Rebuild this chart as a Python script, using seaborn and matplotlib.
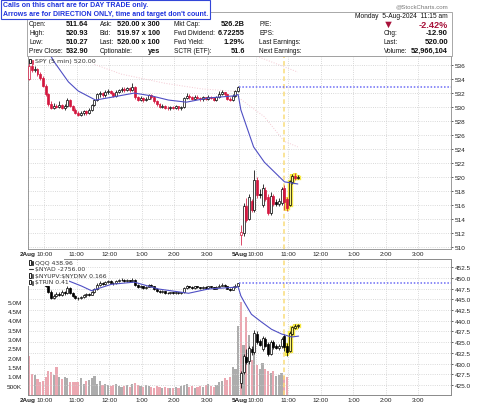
import matplotlib
matplotlib.use("Agg")
import matplotlib.pyplot as plt
from matplotlib.patches import Rectangle
import seaborn as sns
import numpy as np
import pandas as pd

sns.set_style("white")
plt.rcParams['font.family'] = ['Liberation Sans', 'DejaVu Sans']

# ---------------- data ----------------
spy_o = [534.0,535.8,535.3,535.5,534.7,534.2,533.0,531.8,530.5,529.9,
         530.2,530.0,530.3,529.9,530.1,531.0,530.2,529.6,529.2,528.9,
         529.1,529.4,529.2,529.6,530.3,531.0,531.8,532.0,531.7,532.1,
         532.3,532.0,531.6,532.2,532.4,532.6,532.5,532.7,532.4,532.9,
         531.4,531.0,531.3,531.0,531.2,531.7,531.5,530.8,530.4,530.0,
         530.2,529.9,529.8,530.0,529.9,530.1,529.8,530.0,531.3,531.6,
         531.4,531.2,531.5,531.3,531.1,531.4,531.2,531.5,531.3,531.0,
         531.4,531.8,532.1,531.8,531.2,531.0,531.6,532.3,
         511.64,512.0,515.8,514.0,516.5,515.3,519.5,517.6,516.0,518.2,
         517.2,514.8,517.3,516.4,516.2,516.3,518.4,516.8,516.0,519.3,
         520.1,519.9]
spy_c = [535.8,535.3,535.5,534.7,534.2,533.0,531.8,530.5,529.9,530.2,
         530.0,530.3,529.9,530.1,531.0,530.2,529.6,529.2,528.9,529.1,
         529.4,529.2,529.6,530.3,531.0,531.8,532.0,531.7,532.1,532.3,
         532.0,531.6,532.2,532.4,532.6,532.5,532.7,532.4,532.9,531.4,
         531.0,531.3,531.0,531.2,531.7,531.5,530.8,530.4,530.0,530.2,
         529.9,529.8,530.0,529.9,530.1,529.8,530.0,531.3,531.6,531.4,
         531.2,531.5,531.3,531.1,531.4,531.2,531.5,531.3,531.0,531.4,
         531.8,532.1,531.8,531.2,531.0,531.6,532.3,532.9,
         512.2,515.9,513.9,517.2,515.3,519.5,517.4,517.4,518.4,516.8,
         514.8,517.3,516.1,516.2,516.5,518.3,516.4,515.6,519.4,520.2,
         519.8,520.0]
spy_h = [536.3,536.1,535.9,535.6,535.0,534.4,533.3,532.0,530.8,530.6,
         530.5,530.8,530.4,530.4,531.3,531.2,530.3,529.8,529.4,529.4,
         529.6,529.6,529.9,530.5,531.2,532.0,532.3,532.2,532.4,532.6,
         532.5,532.1,532.4,532.6,532.9,532.8,532.9,532.8,533.4,533.0,
         531.6,531.6,531.4,531.5,531.9,531.8,531.6,531.0,530.6,530.5,
         530.3,530.1,530.2,530.2,530.3,530.2,530.2,531.5,532.0,531.8,
         531.6,531.7,531.7,531.5,531.6,531.5,531.7,531.6,531.4,531.6,
         532.3,532.4,532.2,531.9,531.4,531.8,532.5,533.0,
         513.2,516.3,517.0,517.5,516.8,520.93,520.0,518.3,519.0,518.6,
         517.6,517.8,517.6,516.8,517.0,518.5,518.9,517.2,519.6,520.4,
         520.5,520.3]
spy_l = [533.8,535.0,535.0,534.5,533.9,532.8,531.6,530.2,529.7,529.7,
         529.8,529.8,529.7,529.6,530.0,530.0,529.4,529.0,528.7,528.7,
         528.9,528.8,529.0,529.4,530.1,530.8,531.5,531.5,531.5,531.9,
         531.8,531.4,531.5,532.0,532.2,532.2,532.3,532.2,532.3,531.2,
         530.8,530.8,530.7,530.8,531.1,531.2,530.6,530.2,529.8,529.8,
         529.7,529.6,529.6,529.7,529.7,529.6,529.6,529.9,531.1,531.2,
         531.0,531.0,531.1,530.9,530.9,531.0,531.0,531.1,530.8,530.9,
         531.3,531.7,531.6,531.0,530.8,530.9,531.4,532.1,
         510.27,511.5,513.6,513.8,515.0,515.0,517.0,517.0,515.7,516.5,
         514.6,514.6,515.9,515.9,515.8,516.0,515.3,515.2,515.8,519.0,
         519.6,519.7]
spy_prev_close = 543.0          # close before the first bar (colouring only)
spy_last_close = 532.90

qqq_o = [451.0,452.0,451.5,451.6,450.8,450.2,449.3,448.2,446.8,445.3,
         445.8,446.3,446.0,446.8,446.4,447.6,446.5,445.8,445.4,445.2,
         445.5,445.9,446.2,446.1,446.6,447.3,448.4,448.9,448.6,449.0,
         449.3,448.9,448.7,449.2,449.4,449.6,449.3,449.5,449.2,449.6,
         448.3,447.8,448.0,447.7,447.9,448.4,448.1,447.4,447.0,446.7,
         446.9,446.5,446.4,446.6,446.5,446.7,446.4,446.6,447.7,448.1,
         447.9,447.7,448.0,447.8,447.6,447.9,447.7,448.0,447.8,447.5,
         447.9,448.2,448.4,448.1,447.5,447.2,447.8,448.2,
         425.5,428.0,431.5,430.5,433.4,432.6,437.0,435.2,433.5,435.8,
         434.5,432.2,435.0,434.0,433.7,434.0,436.5,434.2,433.0,437.0,
         438.4,438.7]
qqq_c = [452.0,451.5,451.6,450.8,450.2,449.3,448.2,446.8,445.3,445.8,
         446.3,446.0,446.8,446.4,447.6,446.5,445.8,445.4,445.2,445.5,
         445.9,446.2,446.1,446.6,447.3,448.4,448.9,448.6,449.0,449.3,
         448.9,448.7,449.2,449.4,449.6,449.3,449.5,449.2,449.6,448.3,
         447.8,448.0,447.7,447.9,448.4,448.1,447.4,447.0,446.7,446.9,
         446.5,446.4,446.6,446.5,446.7,446.4,446.6,447.7,448.1,447.9,
         447.7,448.0,447.8,447.6,447.9,447.7,448.0,447.8,447.5,447.9,
         448.2,448.4,448.1,447.5,447.2,447.8,448.2,448.75,
         427.8,431.8,430.3,433.6,432.6,437.2,435.0,434.4,435.9,434.2,
         432.2,435.0,433.9,433.7,434.2,435.8,433.8,432.6,437.2,438.5,
         438.7,438.96]
qqq_h = [452.6,452.3,452.0,451.8,451.1,450.4,449.6,448.5,447.1,446.2,
         446.7,446.6,447.2,447.0,448.0,447.8,446.7,446.0,445.6,445.8,
         446.2,446.4,446.5,446.9,447.6,448.7,449.2,449.1,449.3,449.6,
         449.5,449.0,449.4,449.7,449.9,449.8,449.8,449.6,450.0,449.7,
         448.5,448.3,448.1,448.2,448.6,448.5,448.2,447.6,447.2,447.1,
         447.0,446.7,446.8,446.8,446.9,446.8,446.8,447.9,448.4,448.2,
         448.0,448.2,448.1,447.9,448.1,448.0,448.2,448.1,447.9,448.1,
         448.6,448.7,448.5,448.2,447.7,448.0,448.5,448.9,
         428.2,432.3,433.5,434.0,434.0,437.8,437.5,435.8,436.5,436.2,
         435.0,435.5,435.6,434.5,434.6,436.2,436.8,434.8,437.5,438.8,
         439.2,439.2]
qqq_l = [450.8,451.2,451.2,450.5,449.9,449.0,447.9,446.5,445.0,445.0,
         445.5,445.7,445.8,446.1,446.2,446.2,445.5,445.1,444.9,445.0,
         445.3,445.6,445.8,445.9,446.4,447.1,448.2,448.3,448.4,448.8,
         448.7,448.4,448.5,449.0,449.2,449.1,449.1,449.0,449.1,448.1,
         447.6,447.6,447.4,447.5,447.8,447.9,447.2,446.8,446.5,446.5,
         446.3,446.2,446.2,446.3,446.3,446.2,446.2,446.5,447.5,447.6,
         447.4,447.5,447.6,447.4,447.4,447.5,447.5,447.6,447.3,447.4,
         447.8,448.0,447.9,447.3,447.0,447.1,447.6,448.0,
         424.3,427.5,429.8,430.0,432.0,432.3,434.5,434.0,433.0,433.8,
         431.8,432.0,433.5,433.3,433.2,433.6,433.0,431.8,432.6,436.6,
         438.0,438.4]
qqq_last_close = 448.75

# volume in millions (bars shown through 10:55 on 5-Aug)
volume = [2.1,1.15,1.1,0.85,0.7,0.75,0.95,1.3,1.25,1.1,
          1.5,0.95,0.85,0.95,0.9,0.7,0.7,0.7,0.7,0.9,
          0.6,0.75,0.8,0.9,1.0,0.6,0.75,0.55,0.6,0.55,
          0.5,0.55,0.6,0.5,0.45,0.5,0.55,0.45,0.6,0.65,
          0.55,0.5,0.45,0.55,0.5,0.45,0.4,0.5,0.45,0.4,
          0.45,0.4,0.35,0.4,0.45,0.4,0.5,0.55,0.6,0.45,
          0.5,0.4,0.45,0.5,0.45,0.55,0.6,0.5,0.45,0.55,
          0.7,0.75,0.9,0.8,0.98,1.5,1.42,3.7,
          5.0,2.7,4.2,3.2,1.9,2.6,1.6,1.4,1.7,1.4,
          1.3,1.2,1.3,1.0,1.1,1.2,1.0,0.95]

# moving averages (bar index, value)
spy_ma_x = [7.5, 8.9, 14.4, 18.0, 24.4, 30.3, 38.7, 45, 51.3, 57.9, 66, 75.6, 77, 78, 82.7, 86.7, 90.4, 94.1, 99]
spy_ma_y = [537.6, 536.6, 533.6, 532.3, 531.0, 531.4, 532.0, 531.6, 531.0, 530.7, 531.3, 531.6, 531.8, 529.6, 524.3, 522.1, 520.7, 519.3, 519.0]
qqq_ma_x = [14.4, 19.2, 22.9, 30.3, 38.7, 47.6, 58.7, 66, 75.6, 77, 78, 79.3, 81.9, 85.6, 89.3, 93, 96.7, 99.3]
qqq_ma_y = [449.3, 448.1, 447.0, 448.5, 449.0, 447.4, 446.4, 447.4, 447.8, 447.9, 445.8, 444.3, 441.5, 439.7, 438.0, 436.9, 436.2, 436.4]
pinkA_x = [83, 99];               pinkA_y = [537.4, 535.0]
pinkB_x = [24, 34, 50, 63.5, 77.5]; pinkB_y = [536.1, 534.7, 533.4, 532.6, 532.2]
pinkC_x = [78, 86.7, 94, 99];      pinkC_y = [531.1, 528.6, 525.1, 524.3]

tick_pos = [-0.5, 5.5, 17.5, 29.5, 41.5, 53.5, 65.5, 77.5, 83.5, 95.5, 107.5, 119.5, 131.5, 143.5]
tick_lab = ['2Aug', '10:00', '11:00', '12:00', '1:00', '2:00', '3:00',
            '5Aug', '10:00', '11:00', '12:00', '1:00', '2:00', '3:00']
marker_bar = 93.9      # yellow dashed marker
hl_start = 95          # highlighted last bars

# ---------------- styling ----------------
RED = '#d3173f'
PINK = '#eba7b1'
GRAYV = '#adadad'
YEL = '#f6e945'
BLUE_MA = '#4f4fc4'
GRID = '#cdcdcd'
SPINE = '#8a8a8a'

W, H = 480, 406
fig = plt.figure(figsize=(4.8, 4.06), dpi=100)
fig.patch.set_facecolor('white')

def fx(x): return x / W
def fy(y): return 1 - y / H

L, R = 28, 451
ax1 = fig.add_axes([fx(L), fy(250), (R - L) / W, (250 - 57) / H])
ax2 = fig.add_axes([fx(L), fy(396), (R - L) / W, (396 - 260) / H])
axq = ax2.twinx()


def candles(ax, o, h, l, c, prev, use_red, hl_from, minh):
    o, h, l, c = map(np.asarray, (o, h, l, c))
    x = np.arange(len(c))
    pc = np.r_[prev, c[:-1]]
    if use_red:
        edge = np.where(c < pc, RED, 'black')
    else:
        edge = np.array(['black'] * len(c))
    up = c >= o
    face = np.where(up, 'white', edge)
    hl = x >= hl_from
    face = np.where(hl & up, '#fbf38a', face)
    bot = np.minimum(o, c)
    bh = np.maximum(np.abs(c - o), minh)
    ax.vlines(x[hl], l[hl], h[hl], colors=YEL, lw=3.0, zorder=2)
    ax.bar(x[hl], bh[hl], bottom=bot[hl], width=0.72, color=YEL, edgecolor=YEL,
           linewidth=2.4, zorder=2)
    ax.vlines(x, l, h, colors=edge, lw=0.55, zorder=3)
    ax.bar(x, bh, bottom=bot, width=0.72, color=face, edgecolor=edge,
           linewidth=0.5, zorder=4)


# ---------- upper panel (SPY) ----------
candles(ax1, spy_o, spy_h, spy_l, spy_c, spy_prev_close, True, hl_start, 0.06)
sns.lineplot(x=spy_ma_x, y=spy_ma_y, ax=ax1, color=BLUE_MA, lw=0.8, zorder=5)
for xs, ys in ((pinkA_x, pinkA_y), (pinkB_x, pinkB_y), (pinkC_x, pinkC_y)):
    sns.lineplot(x=xs, y=ys, ax=ax1, color='#f4c9d2', lw=0.7, linestyle=':', zorder=1)
ax1.hlines(spy_last_close, 77.5, 155.5, colors='#6b6bf5', linestyles=(0, (1, 1.2)), lw=1.1, zorder=5)
ax1.axvline(marker_bar, color='#f9dc7a', ls=(0, (3, 2)), lw=1.1, zorder=1)

ax1.set_xlim(-0.5, 155.5)
ax1.set_ylim(509.7, 537.3)
ax1.yaxis.tick_right()
ax1.set_yticks(np.arange(510, 537, 2))
ax1.set_yticklabels([str(v) for v in range(510, 537, 2)])
ax1.set_xticks(tick_pos)
ax1.set_xticklabels(tick_lab)
ax1.tick_params(axis='y', labelsize=4.6, length=1.6, width=0.5, pad=0.8, colors='#222222', right=True, left=False)
ax1.tick_params(axis='x', labelsize=4.6, length=0, pad=1.2, colors='#222222')
ax1.grid(True, ls=':', color=GRID, lw=0.6)
ax1.set_xlabel(''); ax1.set_ylabel('')

# ---------- lower panel (volume + QQQ) ----------
vdir = ['up' if (spy_c[i] >= (spy_c[i - 1] if i else spy_prev_close)) else 'down'
        for i in range(len(volume))]
vdf = pd.DataFrame({'bar': np.arange(len(volume)), 'vol': volume, 'dir': vdir})
sns.barplot(data=vdf, x='bar', y='vol', hue='dir', palette={'up': GRAYV, 'down': PINK},
            native_scale=True, dodge=False, width=0.8, errorbar=None, legend=False,
            saturation=1, linewidth=0, ax=ax2, zorder=1)
ax2.set_xlim(-0.5, 155.5)
ax2.set_ylim(0, 7.3)
vt = [0.5, 1.0, 1.5, 2.0, 2.5, 3.0, 3.5, 4.0, 4.5, 5.0]
ax2.set_yticks(vt)
ax2.set_yticklabels(['500K'] + ['%.1fM' % v for v in vt[1:]])
ax2.tick_params(axis='y', labelsize=4.6, length=0, pad=4.5, colors='#222222')
ax2.set_xticks(tick_pos)
ax2.set_xticklabels(tick_lab)
ax2.tick_params(axis='x', labelsize=4.6, length=0, pad=1.2, colors='#222222')
ax2.xaxis.grid(True, ls=':', color=GRID, lw=0.6)
ax2.yaxis.grid(False)
ax2.set_xlabel(''); ax2.set_ylabel('')

candles(axq, qqq_o, qqq_h, qqq_l, qqq_c, 452.0, False, hl_start, 0.08)
sns.lineplot(x=qqq_ma_x, y=qqq_ma_y, ax=axq, color=BLUE_MA, lw=0.8, zorder=5)
axq.hlines(qqq_last_close, 77.5, 155.5, colors='#6b6bf5', linestyles=(0, (1, 1.2)), lw=1.1, zorder=5)
axq.axvline(marker_bar, color='#f9dc7a', ls=(0, (3, 2)), lw=1.1, zorder=1)
axq.set_xlim(-0.5, 155.5)
axq.set_ylim(422.66, 454.4)
qt = np.arange(425.0, 452.6, 2.5)
axq.set_yticks(qt)
axq.set_yticklabels(['%.1f' % v for v in qt])
axq.tick_params(axis='y', labelsize=4.6, length=1.6, width=0.5, pad=0.8, colors='#222222')
axq.yaxis.grid(True, ls=':', color=GRID, lw=0.6)
axq.xaxis.grid(False)
axq.set_xlabel(''); axq.set_ylabel('')

for ax in (ax1, ax2, axq):
    for s in ax.spines.values():
        s.set_color(SPINE)
        s.set_linewidth(0.6)
for ax in (ax1, ax2):
    for t in ax.get_xticklabels():
        if 'Aug' in t.get_text():
            t.set_fontweight('bold')

# ---------- header / annotations ----------
def T(x, y, s, size=4.7, weight='normal', color='#111111', ha='left', va='center', **kw):
    fig.text(fx(x), fy(y), s, fontsize=size, fontweight=weight, color=color,
             ha=ha, va=va, zorder=7, **kw)

def box(x0, y0, x1, y1, ec, fc='white', lw=0.6, z=4):
    fig.add_artist(Rectangle((fx(x0), fy(y1)), (x1 - x0) / W, (y1 - y0) / H,
                             transform=fig.transFigure, edgecolor=ec, facecolor=fc,
                             lw=lw, zorder=z))

box(27, 13, 451.5, 57.3, '#9a9a9a', lw=0.6, z=4)
box(0.5, 0.5, 210, 19.5, '#3346d8', lw=0.8, z=5)
T(3, 5.6, "Calls on this chart are for DAY TRADE only.", size=5.0, weight='bold', color='#1f33dd')
T(3, 14.2, "Arrows are for DIRECTION ONLY, time and target don't count.", size=5.0, weight='bold', color='#1f33dd')

T(448, 6.5, "@StockCharts.com", size=4.4, color='#777777', ha='right')
T(448, 16.5, "Monday  5-Aug-2024  11:15 am", size=4.8, ha='right')

rows = [25, 33.8, 42.6, 51.5]
col1 = [("Open:", "511.64"), ("High:", "520.93"), ("Low:", "510.27"), ("Prev Close:", "532.90")]
col2 = [("Ask:", "520.00 x 300"), ("Bid:", "519.97 x 100"), ("Last:", "520.00 x 100"), ("Optionable:", "yes")]
col3 = [("Mkt Cap:", "526.2B"), ("Fwd Dividend:", "6.72255"), ("Fwd Yield:", "1.29%"), ("SCTR (ETF):", "51.6")]
col4 = ["P/E:", "EPS:", "Last Earnings:", "Next Earnings:"]
for y, (a, b) in zip(rows, col1):
    T(29, y, a); T(88, y, b, size=5.3, weight='bold', ha='right')
for y, (a, b) in zip(rows, col2):
    T(100, y, a); T(160, y, b, size=5.3, weight='bold', ha='right')
for y, (a, b) in zip(rows, col3):
    T(174, y, a); T(245, y, b, size=5.3, weight='bold', ha='right')
for y, a in zip(rows, col4):
    T(259, y, a)
T(388, rows[0], "\u25BC", size=8.0, color='#a8123a', ha='center')
T(448, rows[0], "-2.42%", size=6.6, weight='bold', color='#a8123a', ha='right')
T(384, rows[1], "Chg:"); T(448, rows[1], "-12.90", size=5.6, weight='bold', ha='right')
T(384, rows[2], "Last:"); T(448, rows[2], "520.00", size=5.6, weight='bold', ha='right')
T(384, rows[3], "Volume:"); T(448, rows[3], "52,966,104", size=5.3, weight='bold', ha='right')

# panel legends
def icon(x, y, c1='black', c2=RED):
    box(x, y - 2.5, x + 1.8, y + 2.0, c1, fc='white', lw=0.6, z=8)
    box(x + 2.6, y - 1.5, x + 4.2, y + 2.5, c2, fc=c2, lw=0.4, z=8)

icon(29, 62)
T(35, 62, "SPY (5 min) 520.00", size=4.6, color='#333333', family='DejaVu Sans')

box(28.4, 260.4, 64, 286.5, 'white', fc='white', lw=0, z=6)
leg = ["QQQ 438.96", "$NYAD -2756.00", "$NYUPV:$NYDNV 0.166", "$TRIN 0.41"]
ly = [263.5, 270, 276.5, 283]
for y, s in zip(ly, leg):
    fig.text(fx(35), fy(y), s, fontsize=4.4, color='#333333', ha='left', va='center',
             zorder=9, parse_math=False, family='DejaVu Sans',
             bbox=dict(facecolor='white', edgecolor='none', pad=0.3))
icon(29, ly[0], 'black', 'black')
fig.add_artist(plt.Line2D([fx(29), fx(33)], [fy(ly[1]), fy(ly[1])], transform=fig.transFigure,
                          color='#333333', lw=0.8, zorder=9))
icon(29, ly[2], 'black', '#333333')
icon(29, ly[3], 'black', '#333333')

fig.savefig("out.png", dpi=100, facecolor='white')
